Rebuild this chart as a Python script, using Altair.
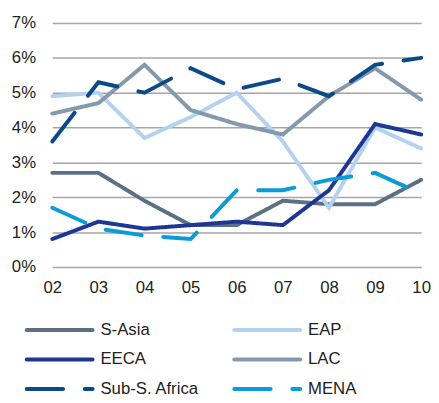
import altair as alt
import pandas as pd

years = ["02", "03", "04", "05", "06", "07", "08", "09", "10"]
series_names = ["S-Asia", "EAP", "EECA", "LAC", "Sub-S. Africa", "MENA"]
s_asia = [2.7, 2.7, 1.9, 1.2, 1.2, 1.9, 1.8, 1.8, 2.5]
eap = [4.9, 5.0, 3.7, 4.3, 5.0, 3.6, 1.7, 4.0, 3.4]
eeca = [0.8, 1.3, 1.1, 1.2, 1.3, 1.2, 2.2, 4.1, 3.8]
lac = [4.4, 4.7, 5.8, 4.5, 4.1, 3.8, 4.9, 5.7, 4.8]
sub_s_africa = [3.6, 5.3, 5.0, 5.7, 5.1, 5.4, 4.9, 5.8, 6.0]
mena = [1.7, 1.1, 0.9, 0.8, 2.2, 2.2, 2.5, 2.7, 2.1]
colors = ["#5b7085", "#b4d2f0", "#1e3797", "#8599ac", "#0b4a86", "#0a9bd8"]
y_ticks = [0, 1, 2, 3, 4, 5, 6, 7]

all_values = [s_asia, eap, eeca, lac, sub_s_africa, mena]
rows = []
for name, vals in zip(series_names, all_values):
    for yr, v in zip(years, vals):
        rows.append({"year": yr, "region": name, "value": v / 100})
df = pd.DataFrame(rows)

# legend table: entry order fills rows of two
legend_df = pd.DataFrame({
    "region": series_names,
    "col": [i % 2 for i in range(len(series_names))],
    "row": [i // 2 for i in range(len(series_names))],
})

solid = [1, 0]
dashed = [37, 22]
dashes = [solid, solid, solid, solid, dashed, dashed]

FONT = "Liberation Sans"
TXT = "#222222"
color_enc = alt.Color("region:N", scale=alt.Scale(domain=series_names, range=colors), legend=None)
dash_enc = alt.StrokeDash("region:N", scale=alt.Scale(domain=series_names, range=dashes), legend=None)

lines = alt.Chart(df).mark_line(strokeWidth=4, strokeCap="round", strokeJoin="miter").encode(
    x=alt.X("year:O", sort=years, scale=alt.Scale(padding=0),
            axis=alt.Axis(title=None, labelAngle=0, ticks=False, domain=False,
                          labelPadding=13, labelFontSize=17, labelFont=FONT,
                          labelColor=TXT, grid=False)),
    y=alt.Y("value:Q", scale=alt.Scale(domain=[0, 0.07], nice=False),
            axis=alt.Axis(title=None, format=".0%", values=[t / 100 for t in y_ticks],
                          ticks=False, domain=False, labelPadding=17,
                          labelFontSize=17, labelFont=FONT, labelColor=TXT,
                          gridColor="#a6a6a6", gridWidth=1.5)),
    color=color_enc,
    strokeDash=dash_enc,
    order=alt.Order("year:O"),
)

lx = alt.X("col:Q", scale=alt.Scale(domain=[0, 1], range=[-26, 185]), axis=None)
ly = alt.Y("row:Q", scale=alt.Scale(domain=[0, 2], range=[312, 372]), axis=None)

leg_sym = alt.Chart(legend_df).mark_rule(strokeWidth=4, strokeCap="round", x2Offset=67).encode(
    x=lx, x2="col:Q", y=ly, color=color_enc, strokeDash=dash_enc,
)
leg_txt = alt.Chart(legend_df).mark_text(align="left", baseline="middle", dx=75,
                                         fontSize=17, font=FONT, color=TXT).encode(
    x=lx, y=ly, text="region:N",
)

chart = alt.layer(lines, leg_sym, leg_txt).resolve_scale(
    x="independent", y="independent"
).properties(
    width=375,
    height=248,
    autosize=alt.AutoSizeParams(type="none"),
    padding={"left": 45, "top": 12, "right": 10, "bottom": 132},
).configure_view(stroke=None)

chart.save("out.html", embed_options={"renderer": "svg", "actions": False})
